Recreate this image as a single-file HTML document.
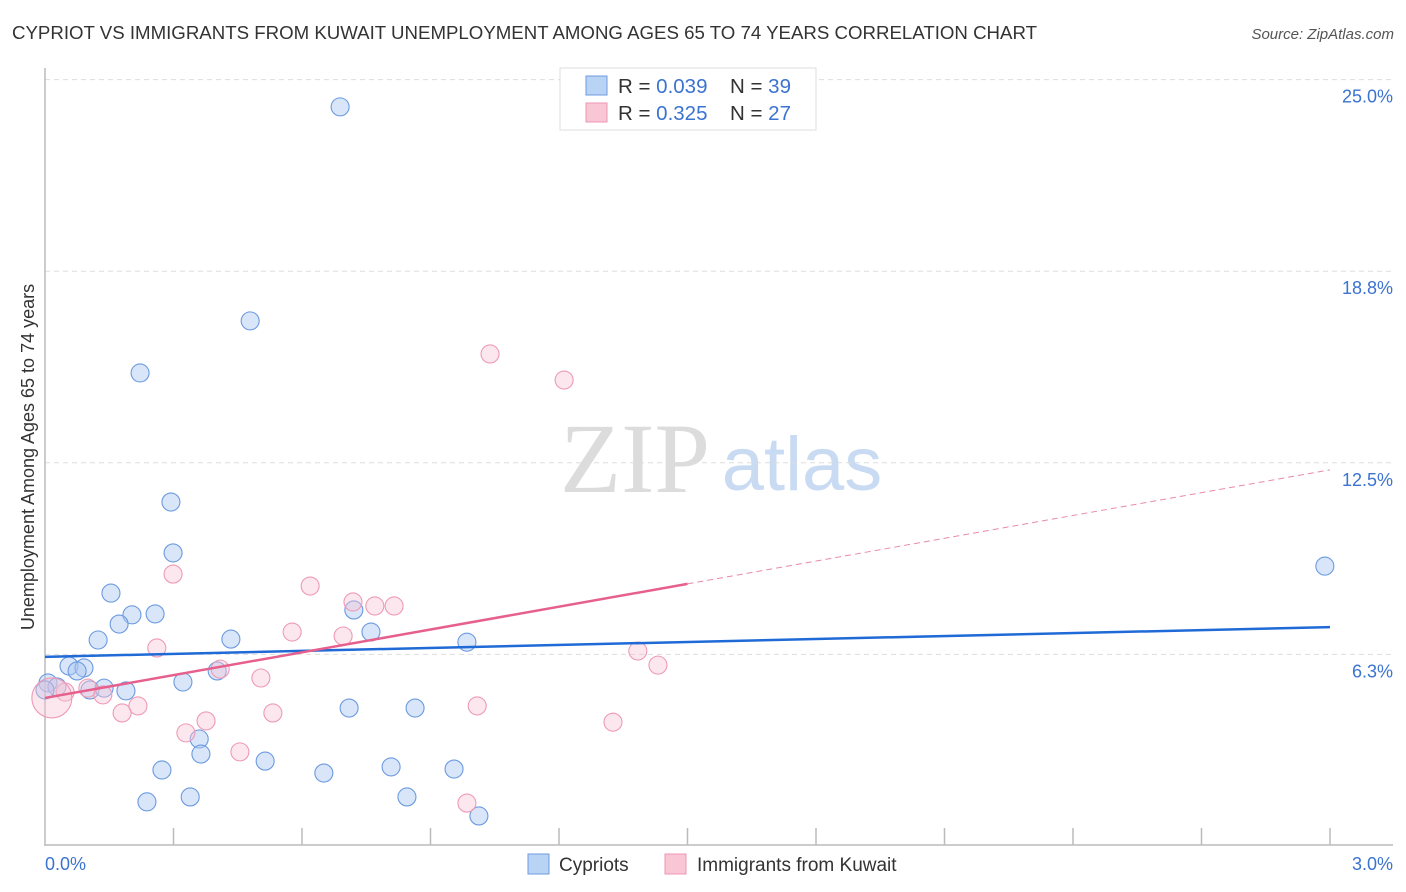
<!DOCTYPE html>
<html><head><meta charset="utf-8"><style>
body{margin:0;background:#fff;font-family:"Liberation Sans",sans-serif;}
svg{display:block}
</style></head><body>
<svg id="chart" width="1406" height="892" viewBox="0 0 1406 892" xmlns="http://www.w3.org/2000/svg" font-family="Liberation Sans, sans-serif">
<text x="12" y="39" font-size="18" fill="#333" textLength="1025" lengthAdjust="spacingAndGlyphs">CYPRIOT VS IMMIGRANTS FROM KUWAIT UNEMPLOYMENT AMONG AGES 65 TO 74 YEARS CORRELATION CHART</text>
<text x="1394" y="39" font-size="15" fill="#555" font-style="italic" text-anchor="end">Source: ZipAtlas.com</text>
<g>
<text x="635" y="492" font-size="100" font-family="Liberation Serif, serif" fill="#dcdcdc" text-anchor="middle">ZIP</text>
<text x="802" y="490" font-size="76" fill="#c9dbf2" text-anchor="middle">atlas</text>
</g>
<g id="grid"></g>
<g id="axes"></g>
<g id="marks"></g>
<text transform="translate(34,457) rotate(-90)" font-size="18" fill="#333" text-anchor="middle">Unemployment Among Ages 65 to 74 years</text>
<text x="45" y="870" font-size="18" fill="#3b73d0">0.0%</text>
<text x="1393" y="870" font-size="18" fill="#3b73d0" text-anchor="end">3.0%</text>
<g>
<rect x="560" y="68" width="256" height="62" fill="#fff" stroke="#ddd"/>
<rect x="586" y="76" width="21" height="19" fill="#b9d3f5" stroke="#6d9be0"/>
<rect x="586" y="103" width="21" height="19" fill="#f9c6d6" stroke="#ec95b0"/>
<text x="618" y="93" font-size="20.5" fill="#333">R = <tspan fill="#3b73d0">0.039</tspan></text>
<text x="730" y="93" font-size="20.5" fill="#333">N = <tspan fill="#3b73d0">39</tspan></text>
<text x="618" y="120" font-size="20.5" fill="#333">R = <tspan fill="#3b73d0"> 0.325</tspan></text>
<text x="730" y="120" font-size="20.5" fill="#333">N = <tspan fill="#3b73d0">27</tspan></text>
</g>
<g>
<rect x="528" y="854" width="21" height="20" fill="#b9d3f5" stroke="#6d9be0"/>
<text x="559" y="871" font-size="19" fill="#333">Cypriots</text>
<rect x="665" y="854" width="21" height="20" fill="#f9c6d6" stroke="#ec95b0"/>
<text x="697" y="871" font-size="19" fill="#333">Immigrants from Kuwait</text>
</g>
</svg>
<script>
const yTicks=[25.0,18.8,12.5,6.3];
const yTickValues=[25,18.75,12.5,6.25];
const xTickValues=[0.3,0.6,0.9,1.2,1.5,1.8,2.1,2.4,2.7,3.0];
const cypX=[0.689,0.479,0.222,0.294,0.299,0.154,0.203,0.257,0.173,0.124,0.434,0.761,0.721,0.985,2.988,0.056,0.091,0.075,0.402,0.322,0.007,0.028,0.105,0.138,0.189,0.710,0.864,0.360,0.364,0.514,0.273,0.651,0.808,0.955,0.238,0.339,0.845,1.013,0.0];
const cypY=[24.11,17.13,15.43,11.22,9.56,8.25,7.54,7.57,7.24,6.72,6.75,6.98,7.70,6.65,9.13,5.87,5.81,5.71,5.71,5.35,5.32,5.19,5.09,5.15,5.06,4.50,4.50,3.49,3.00,2.77,2.48,2.38,2.58,2.51,1.44,1.60,1.60,0.98,5.09];
const kuwX=[1.039,1.212,0.299,0.619,0.719,0.770,0.815,0.577,0.696,0.261,1.384,1.431,0.409,0.504,0.100,0.047,0.135,0.217,0.180,1.009,0.532,0.376,1.326,0.329,0.455,0.985,0.016];
const kuwY=[16.05,15.20,8.87,8.48,7.96,7.83,7.83,6.98,6.85,6.46,6.36,5.90,5.77,5.48,5.15,5.02,4.93,4.57,4.34,4.57,4.34,4.08,4.04,3.69,3.07,1.40,4.83];
const cypTrend=[6.17,7.14];
const kuwTrend=[4.83,12.27];
const NS='http://www.w3.org/2000/svg';
const X0=45,X1=1330,Y0=846,PXPER=191.6/6.25;
function sx(v){return X0+(v/3.0)*(X1-X0);}
function sy(v){return Y0-v*PXPER;}
function mk(tag,attrs,parent){const e=document.createElementNS(NS,tag);for(const k in attrs)e.setAttribute(k,attrs[k]);parent.appendChild(e);return e;}
const grid=document.getElementById('grid'),axes=document.getElementById('axes'),marks=document.getElementById('marks');
yTickValues.forEach((v,i)=>{
 const l=mk('line',{x1:45,x2:1393,y1:sy(v),y2:sy(v),stroke:'#ddd','stroke-dasharray':'5,4'},grid);
 
 
 const t=mk('text',{x:1393,y:sy(v)+23,'font-size':18,fill:'#3b73d0','text-anchor':'end'},grid);
 t.textContent=yTicks[i].toFixed(1)+'%';
 
 
});
const ya=mk('line',{x1:45,x2:45,y1:68,y2:846,stroke:'#bbb','stroke-width':1.5},axes);


const xa=mk('line',{x1:45,x2:1393,y1:845,y2:845,stroke:'#bbb','stroke-width':1.5},axes);


xTickValues.forEach(v=>{
 const t=mk('line',{x1:sx(v),x2:sx(v),y1:828,y2:845,stroke:'#bbb','stroke-width':1.5},axes);
 
 
});
cypX.forEach((x,i)=>{
 const c=mk('circle',{cx:sx(x),cy:sy(cypY[i]),r:9,fill:'rgba(170,200,242,0.45)',stroke:'#6b9ae0','stroke-width':1.1},marks);
 
 
});
kuwX.forEach((x,i)=>{
 const big=(i===kuwX.length-1);
 const c=mk('circle',{cx:sx(x),cy:sy(kuwY[i]),r:big?20:9,fill:'rgba(248,195,212,0.4)',stroke:'#ee9ab4','stroke-width':1.1},marks);
 
 
});
const bl=mk('line',{x1:sx(0),y1:sy(cypTrend[0]),x2:sx(3),y2:sy(cypTrend[1]),stroke:'#1f6ad6','stroke-width':2.5},marks);


const kmid=kuwTrend[0]+(kuwTrend[1]-kuwTrend[0])*0.5;
const pl=mk('line',{x1:sx(0),y1:sy(kuwTrend[0]),x2:sx(1.5),y2:sy(kmid),stroke:'#e65f8d','stroke-width':2.5},marks);


const pd=mk('line',{x1:sx(1.5),y1:sy(kmid),x2:sx(3),y2:sy(kuwTrend[1]),stroke:'#e98aaa','stroke-width':1,'stroke-dasharray':'6,4'},marks);


</script>
</body></html>
